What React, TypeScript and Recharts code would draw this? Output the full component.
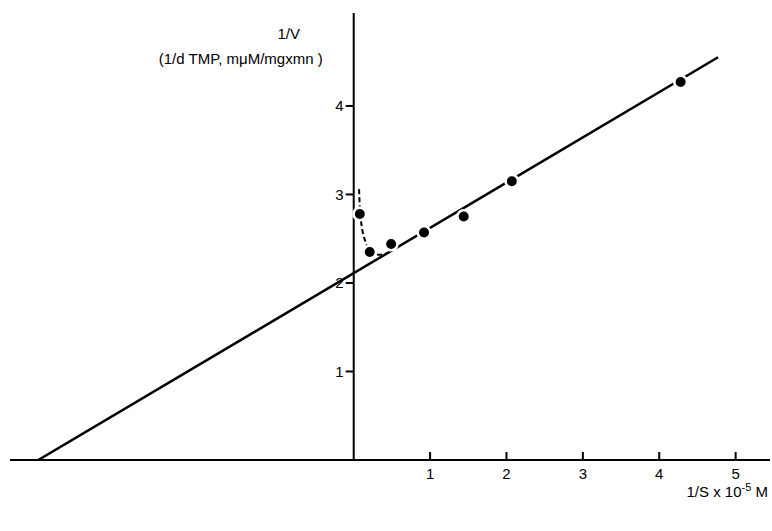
import { ComposedChart, Line, Scatter, XAxis, YAxis, ReferenceLine } from 'recharts';

// Lineweaver-Burk plot, 1/V against 1/S
const pointX = [0.08, 0.21, 0.49, 0.92, 1.44, 2.07, 4.28];
const pointY = [2.78, 2.35, 2.44, 2.57, 2.75, 3.15, 4.27];

// fitted straight line, end points
const fitX = [-4.13, 4.77];
const fitY = [0, 4.55];

// dashed curve through the low-1/S points
const curveX = [0.07, 0.085, 0.16, 0.25, 0.35, 0.45];
const curveY = [3.06, 2.78, 2.45, 2.33, 2.32, 2.34];

const xTicks = [1, 2, 3, 4, 5];
const yTicks = [1, 2, 3, 4];

const points = pointX.map((x, i) => ({ x, y: pointY[i] }));
const fitLine = fitX.map((x, i) => ({ x, y: fitY[i] }));
const curve = curveX.map((x, i) => ({ x, y: curveY[i] }));
const xTickMarks = xTicks.map((x) => ({ x, y: 0 }));
const yTickMarks = yTicks.map((y) => ({ x: 0, y }));

const FONT = '"Liberation Sans", Arial, sans-serif';

const Dot = ({ cx = 0, cy = 0 }: { cx?: number; cy?: number }) => (
  <circle cx={cx} cy={cy} r={6.3} fill="#000" stroke="#fff" strokeWidth={2.6} />
);

const XTickMark = ({ cx = 0, cy = 0 }: { cx?: number; cy?: number }) => (
  <line x1={cx} y1={cy} x2={cx} y2={cy - 8} stroke="#000" strokeWidth={2} />
);

const YTickMark = ({ cx = 0, cy = 0, payload }: { cx?: number; cy?: number; payload?: { y: number } }) => (
  <g>
    <line x1={cx - 8} y1={cy} x2={cx} y2={cy} stroke="#000" strokeWidth={2} />
    <text
      x={cx - 10}
      y={cy}
      textAnchor="end"
      dominantBaseline="central"
      fontSize={15}
      fontFamily={FONT}
      fill="#000"
    >
      {payload ? payload.y : ''}
    </text>
  </g>
);

const YTitle = ({ viewBox }: { viewBox?: { x: number; y: number } }) => {
  const x = viewBox ? viewBox.x : 0;
  const y = viewBox ? viewBox.y : 0;
  return (
    <g fontFamily={FONT} fontSize={15} fill="#000">
      <text x={x - 65} y={y + 26} textAnchor="middle">
        1/V
      </text>
      <text x={x - 31} y={y + 51} textAnchor="end">
        (1/d TMP, mμM/mgxmn )
      </text>
    </g>
  );
};

const XTitle = ({ viewBox }: { viewBox?: { x: number; y: number; width: number } }) => {
  const x = viewBox ? viewBox.x + viewBox.width : 0;
  const y = viewBox ? viewBox.y : 0;
  return (
    <text x={x - 2} y={y + 37} textAnchor="end" fontFamily={FONT} fontSize={15} fill="#000">
      1/S x 10
      <tspan dy={-6} fontSize={11}>
        -5
      </tspan>
      <tspan dy={6}> M</tspan>
    </text>
  );
};

export default function App() {
  return (
    <div style={{ position: 'absolute', left: 0, top: 0, background: '#fff' }}>
      <ComposedChart width={772} height={531} margin={{ top: 13, right: 2, bottom: 41, left: 10 }}>
        <XAxis
          type="number"
          dataKey="x"
          domain={[-4.5, 5.45]}
          ticks={xTicks}
          allowDataOverflow
          tickLine={false}
          axisLine={{ stroke: '#000', strokeWidth: 2 }}
          tick={{ fill: '#000', fontSize: 15, fontFamily: FONT }}
          label={<XTitle />}
        />
        <YAxis type="number" dataKey="y" domain={[0, 5.05]} allowDataOverflow hide />
        <ReferenceLine x={0} stroke="#000" strokeWidth={2} label={<YTitle />} />
        <Line
          data={fitLine}
          dataKey="y"
          type="linear"
          stroke="#000"
          strokeWidth={2.5}
          dot={false}
          activeDot={false}
          isAnimationActive={false}
        />
        <Line
          data={curve}
          dataKey="y"
          type="monotone"
          stroke="#000"
          strokeWidth={2}
          strokeDasharray="5 3"
          dot={false}
          activeDot={false}
          isAnimationActive={false}
        />
        <Scatter data={xTickMarks} dataKey="y" shape={<XTickMark />} isAnimationActive={false} />
        <Scatter data={yTickMarks} dataKey="y" shape={<YTickMark />} isAnimationActive={false} />
        <Scatter data={points} dataKey="y" shape={<Dot />} isAnimationActive={false} />
      </ComposedChart>
    </div>
  );
}
